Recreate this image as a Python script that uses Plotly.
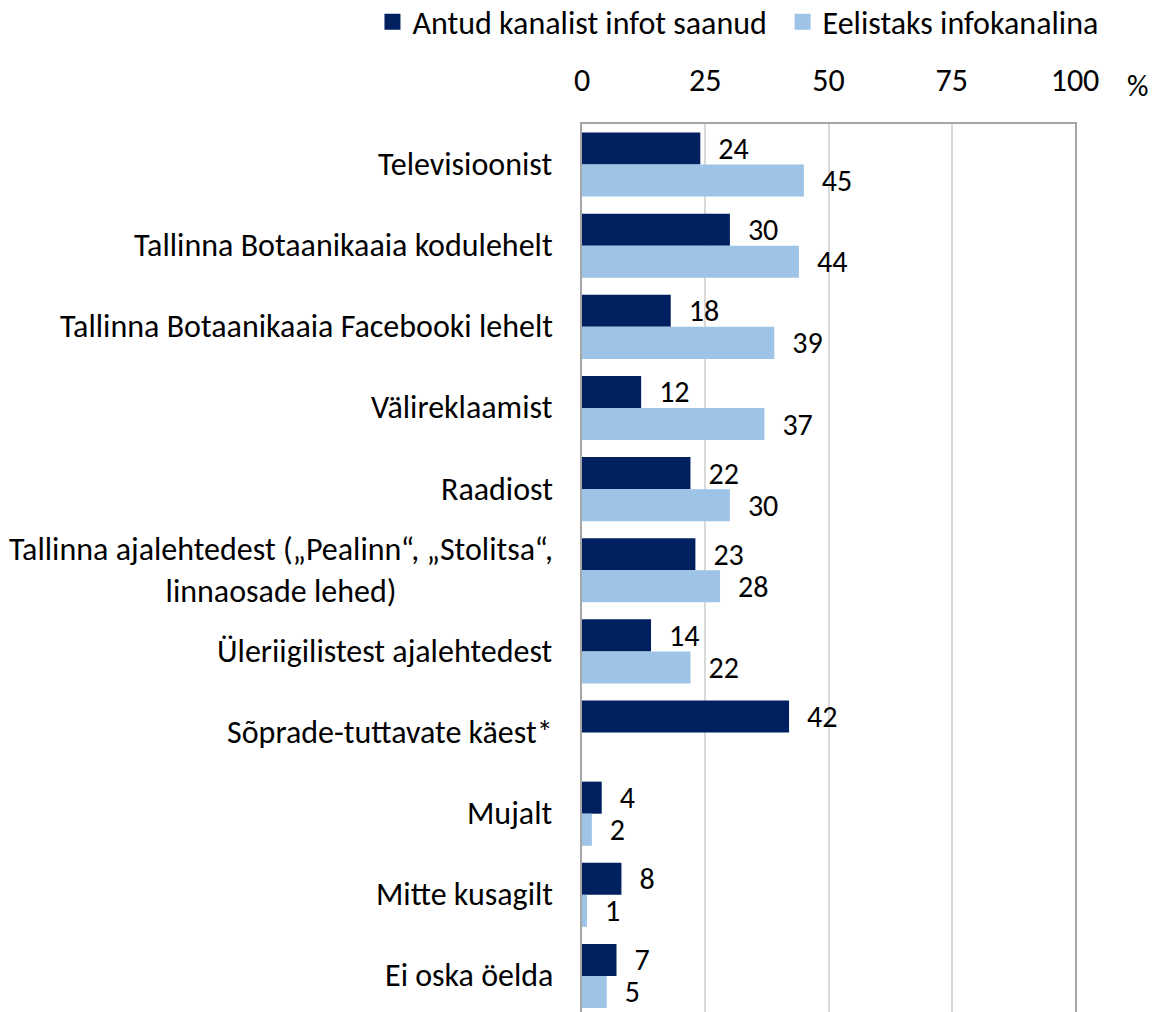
import plotly.graph_objects as go

categories = [
    "Televisioonist",
    "Tallinna Botaanikaaia kodulehelt",
    "Tallinna Botaanikaaia Facebooki lehelt",
    "Välireklaamist",
    "Raadiost",
    "Tallinna ajalehtedest („Pealinn“, „Stolitsa“,<br>linnaosade lehed)",
    "Üleriigilistest ajalehtedest",
    "Sõprade-tuttavate käest*",
    "Mujalt",
    "Mitte kusagilt",
    "Ei oska öelda",
]
received = [24, 30, 18, 12, 22, 23, 14, 42, 4, 8, 7]
preferred = [45, 44, 39, 37, 30, 28, 22, None, 2, 1, 5]
series_names = ["Antud kanalist infot saanud", "Eelistaks infokanalina"]
x_ticks = [0, 25, 50, 75, 100]

FONT = "Carlito, Calibri, Lato, sans-serif"
FS = 32
VFS = 30
DARK = "#002060"
LIGHT = "#9dc3e6"

ids = list(range(len(categories)))

fig = go.Figure()
for k, (name, vals, col) in enumerate([(series_names[0], received, DARK),
                                       (series_names[1], preferred, LIGHT)]):
    fig.add_trace(go.Bar(
        y=ids, x=vals, name=name, orientation="h", showlegend=False,
        marker=dict(color=col, line=dict(width=0)),
        text=[("" if v is None else f"\u2002{v}") for v in vals],
        textposition="outside", cliponaxis=False, constraintext="none",
        textfont=dict(family=FONT, size=VFS, color="#000000"),
    ))
    # legend proxy with a larger square symbol
    fig.add_trace(go.Scatter(
        x=[None], y=[None], mode="markers",
        name=name + ("\u2004" if k == 0 else ""), showlegend=True,
        marker=dict(symbol="square", size=18, color=col),
    ))

for i, c in enumerate(categories):
    fig.add_annotation(
        x=0, xref="paper", y=i, yref="y", text=c, showarrow=False,
        xanchor="right", xshift=-27, align="center",
        font=dict(family=FONT, size=FS, color="#000000"),
    )

fig.add_annotation(x=1, xref="paper", y=1, yref="paper", yshift=39, xshift=62,
                   text="%", showarrow=False, xanchor="center", yanchor="middle",
                   font=dict(family=FONT, size=FS - 2, color="#000000"))

fig.update_layout(
    width=1164, height=1012,
    margin=dict(l=582, r=89, t=124, b=0, autoexpand=False),
    plot_bgcolor="white", paper_bgcolor="white",
    barmode="group", bargap=0.21, bargroupgap=0,
    font=dict(family=FONT, size=FS, color="#000000"),
    legend=dict(orientation="h", x=-0.425, xanchor="left", y=1.115,
                yanchor="middle", font=dict(family=FONT, size=FS),
                itemwidth=30, traceorder="normal", bgcolor="rgba(0,0,0,0)"),
    showlegend=True,
)
fig.update_xaxes(side="top", range=[0, 100], tickvals=x_ticks, showgrid=True,
                 gridcolor="#d9d9d9", gridwidth=2, zeroline=False,
                 showline=True, linecolor="#a6a6a6", linewidth=2,
                 ticks="", ticklabelstandoff=18,
                 tickfont=dict(family=FONT, size=FS, color="#000000"))
fig.update_yaxes(range=[10.444, -0.5], showticklabels=False, showgrid=False,
                 zeroline=False, showline=True, mirror=True,
                 linecolor="#a6a6a6", linewidth=2, ticks="")

fig.write_html("out.html", config={"displayModeBar": False},
               post_script="document.body.style.margin='0px';")
